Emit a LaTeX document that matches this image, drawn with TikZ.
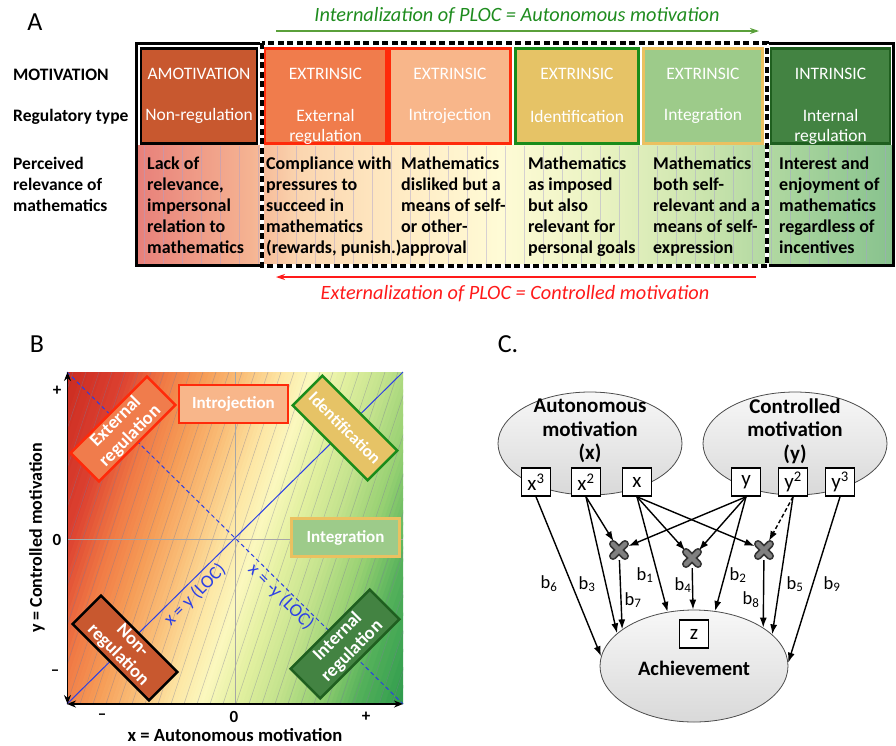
\documentclass[tikz,border=0pt]{standalone}
\usepackage{fontspec}
\setmainfont{Carlito}
\usetikzlibrary{arrows.meta,shapes.geometric}
\newcommand\myfs[2]{\fontsize{#1}{#2}\selectfont}
\definecolor{amot}{HTML}{C8582F}
\definecolor{extf}{HTML}{F07C4C}
\definecolor{redb}{HTML}{FF2A0A}
\definecolor{introf}{HTML}{F8B68A}
\definecolor{identf}{HTML}{E6C366}
\definecolor{greenb}{HTML}{1A8C1A}
\definecolor{integf}{HTML}{9DCB8A}
\definecolor{goldb}{HTML}{EBC160}
\definecolor{intrf}{HTML}{438342}
\definecolor{intrb}{HTML}{1F5F1F}
\definecolor{ttlgreen}{HTML}{1E8C1E}
\definecolor{arrgreen}{HTML}{5AA03A}
\definecolor{ttlred}{HTML}{FF1A1A}
\definecolor{bluel}{HTML}{2B3FE6}
\definecolor{gridc}{HTML}{A8A0D0}
\definecolor{hatchc}{HTML}{7A7A9A}
\definecolor{a0}{HTML}{E8807A}
\definecolor{a1}{HTML}{F5B392}
\definecolor{a2}{HTML}{FBD6B0}
\definecolor{a3}{HTML}{FFEBC4}
\definecolor{a4}{HTML}{FFFBD6}
\definecolor{a5}{HTML}{EAF3C2}
\definecolor{a6}{HTML}{CCE5AE}
\definecolor{a7}{HTML}{A6D39C}
\definecolor{a8}{HTML}{88C28E}
\definecolor{g0}{HTML}{C8281E}
\definecolor{g1}{HTML}{DC4030}
\definecolor{g2}{HTML}{F07A45}
\definecolor{g3}{HTML}{F69E58}
\definecolor{g4}{HTML}{FAC27C}
\definecolor{g5}{HTML}{FDE6A4}
\definecolor{g6}{HTML}{FBF8BE}
\definecolor{g7}{HTML}{E2F0A0}
\definecolor{g8}{HTML}{C2E28C}
\definecolor{g9}{HTML}{96D072}
\definecolor{g10}{HTML}{52B05A}
\definecolor{g11}{HTML}{239448}
\pgfdeclarehorizontalshading{rowgrad}{100bp}{color(0bp)=(a0); color(25bp)=(a0); color(32.5bp)=(a1); color(35.8bp)=(a2); color(42.5bp)=(a3); color(49bp)=(a4); color(55.6bp)=(a5); color(62.3bp)=(a6); color(68.8bp)=(a7); color(75bp)=(a8); color(100bp)=(a8)}
\begin{document}
\begin{tikzpicture}[x=1pt,y=-1pt,
  lbl/.style={inner sep=0},
  celltop/.style={line width=2.6pt, minimum height=95pt, inner sep=0},
  wtxt/.style={text=white, font=\myfs{17.5}{20}, inner sep=0, align=center},
  lefttxt/.style={font=\bfseries\myfs{17.5}{20.8}, inner sep=0, align=left},
  rowtxt/.style={anchor=north west, align=left, inner sep=0, font=\bfseries\myfs{18}{20.8}},
  gridl/.style={gridc, opacity=0.45, line width=0.6pt},
  hatch/.style={hatchc, opacity=0.45, line width=0.5pt},
  bbox/.style={draw, line width=2.5pt, text=white, font=\bfseries\myfs{17}{19}, align=center, inner sep=0},
  rbox/.style={bbox, font=\bfseries\myfs{18.5}{20.5}},
  ticklab/.style={font=\bfseries\myfs{17}{20}, inner sep=0},
  axarr/.style={line width=1.6pt, {Stealth[length=9pt,width=7pt]}-{Stealth[length=9pt,width=7pt]}},
  ell/.style={ellipse, draw=black!70, line width=0.8pt, top color=gray!6, bottom color=gray!30, inner sep=0},
  elltxt/.style={font=\bfseries\myfs{21}{23.5}, align=center, inner sep=0},
  sqbox/.style={draw, fill=white, line width=1.6pt, minimum width=29pt, minimum height=28pt, inner sep=0, font=\myfs{21}{22}},
  crossn/.style={circle, minimum size=20pt, inner sep=0},
  arr/.style={line width=1.4pt, -{Latex[length=10pt,width=7pt]}},
  blab/.style={font=\myfs{18.5}{20}, inner sep=0}
]
\useasboundingbox (0,0) rectangle (896,745);

% ================= Panel A =================
\node[lbl, font=\myfs{26}{30}] (lA) at (35,22) {A};
\node[lbl, font=\itshape\myfs{20.3}{24}, text=ttlgreen] (tin) at (517,16) {Internalization of PLOC = Autonomous motivation};
\coordinate (gs) at (276,31); \coordinate (ge) at (759,31);
\draw[arrgreen, line width=1.3pt, -{Stealth[length=9pt,width=6pt]}] (gs) -- (ge);

% bottom row gradient
\shade[shading=rowgrad] (137,145) rectangle (892,265);
\foreach \i in {0,...,39} \draw[gridl] ({144+\i*19},146) -- ++(0,118);

% top row cells
\node[celltop, draw=black, fill=amot, minimum width=116pt] (camot) at (199,96) {};
\node[celltop, draw=redb, fill=extf, minimum width=122pt] (cext) at (325.5,96) {};
\node[celltop, draw=redb, fill=introf, minimum width=121pt] (cintro) at (450,96) {};
\node[celltop, draw=greenb, fill=identf, minimum width=123pt] (cident) at (577,96) {};
\node[celltop, draw=goldb, fill=integf, minimum width=119pt] (cinteg) at (703,96) {};
\node[celltop, draw=intrb, fill=intrf, minimum width=119pt] (cintr) at (830.5,96) {};

\node[wtxt] (t1a) at (199,74) {AMOTIVATION};
\node[wtxt] (t1b) at (199,116) {Non-regulation};
\node[wtxt] (t2a) at (325.5,74) {EXTRINSIC};
\node[wtxt] (t2b) at (325.5,127) {External\\regulation};
\node[wtxt] (t3a) at (450,74) {EXTRINSIC};
\node[wtxt] (t3b) at (450,116) {Introjection};
\node[wtxt] (t4a) at (577,74) {EXTRINSIC};
\node[wtxt] (t4b) at (577,116) {Identification};
\node[wtxt] (t5a) at (703,74) {EXTRINSIC};
\node[wtxt] (t5b) at (703,116) {Integration};
\node[wtxt] (t6a) at (830.5,74) {INTRINSIC};
\node[wtxt] (t6b) at (830.5,127) {Internal\\regulation};

% outer frame
\draw[line width=3pt] (136,43) rectangle (893,265);
% dashed frame
\draw[white, line width=3.6pt] (262,43) rectangle (767,266);
\draw[black, line width=3.6pt, dash pattern=on 6pt off 3.5pt] (262,43) rectangle (767,266);

% left labels
\node[lefttxt, anchor=west] (lmot) at (13,75) {MOTIVATION};
\node[lefttxt, anchor=west] (lreg) at (13,117) {Regulatory type};
\node[rowtxt, font=\bfseries\myfs{17.5}{20.8}] (lper) at (13,157) {Perceived\\relevance of\\mathematics};

% row texts
\node[rowtxt] (r1) at (147,157) {Lack of\\relevance,\\impersonal\\relation to\\mathematics};
\node[rowtxt] (r2) at (266,157) {Compliance with\\pressures to\\succeed in\\mathematics\\(rewards, punish.)};
\node[rowtxt] (r3) at (401,157) {Mathematics\\disliked but a\\means of self-\\or other-\\approval};
\node[rowtxt] (r4) at (528,157) {Mathematics\\as imposed\\but also\\relevant for\\personal goals};
\node[rowtxt] (r5) at (653,157) {Mathematics\\both self-\\relevant and a\\means of self-\\expression};
\node[rowtxt] (r6) at (779,157) {Interest and\\enjoyment of\\mathematics\\regardless of\\incentives};

\coordinate (rs) at (756,277); \coordinate (re) at (276,277);
\draw[ttlred, line width=1.3pt, -{Stealth[length=9pt,width=6pt]}] (rs) -- (re);
\node[lbl, font=\itshape\myfs{20.3}{24}, text=ttlred] (tex) at (515,294) {Externalization of PLOC = Controlled motivation};

% ================= Panel B =================
\node[lbl, font=\myfs{26}{30}] (lB) at (37,344) {B};
\begin{scope}
\clip (67,372) rectangle (403,704);
\foreach \ua/\ub/\ca/\cb in {0/67/g0/g1, 67/110/g1/g2, 110/150/g2/g3, 150/190/g3/g4, 190/225/g4/g5, 225/255/g5/g6, 255/290/g6/g7, 290/330/g7/g8, 330/370/g8/g9, 370/410/g9/g10, 410/470/g10/g11}{
  \foreach \j in {0,...,9}{
    \pgfmathtruncatemacro\pp{\j*10}
    \pgfmathsetmacro\xx{\ua+(\ub-\ua)*\j/10}
    \pgfmathsetmacro\ww{(\ub-\ua)/10+0.8}
    \fill[\cb!\pp!\ca] ({\xx-55},704) -- ++(\ww,0) -- ++(110,-332) -- ++(-\ww,0) -- cycle;
  }
}
\foreach \i in {0,...,36} \draw[hatch] ({-50+\i*13},704) -- ++(110,-332);
\end{scope}
\draw[gray!70, line width=0.6pt] (235,372) -- (235,704);
\draw[gray!70, line width=0.6pt] (67,539) -- (403,539);
\draw[bluel, line width=1pt] (67,704) -- (403,372);
\draw[bluel, line width=1pt, dash pattern=on 4pt off 3pt] (67,372) -- (403,704);
\node[lbl, text=bluel, rotate=45, font=\myfs{18.5}{20}] (loc1) at (195,595) {x = y (LOC)};
\node[lbl, text=bluel, rotate=-45, font=\myfs{18.5}{20}] (loc2) at (281,597) {x = -y (LOC)};

\node[rbox, fill=extf, draw=redb, rotate=45, minimum width=108pt, minimum height=40pt] (bext) at (123,429) {External\\regulation};
\node[bbox, fill=introf, draw=redb, minimum width=109pt, minimum height=38pt] (bintro) at (233.5,404) {Introjection};
\node[rbox, fill=identf, draw=greenb, rotate=-45, minimum width=106pt, minimum height=42pt, font=\bfseries\myfs{17}{19}] (bident) at (345,428) {Identification};
\node[bbox, fill=integf, draw=goldb, minimum width=108pt, minimum height=38pt] (binteg) at (345.5,537.5) {Integration};
\node[rbox, fill=amot, draw=black, rotate=-45, minimum width=108pt, minimum height=40pt] (bnon) at (125,648) {Non-\\regulation};
\node[rbox, fill=intrf, draw=intrb, rotate=45, minimum width=112pt, minimum height=42pt] (bint) at (345,644) {Internal\\regulation};

\coordinate (yb) at (67.5,704); \coordinate (yt) at (67.5,372);
\coordinate (xlft) at (67,704); \coordinate (xrt) at (403,704);
\draw[axarr] (yb) -- (yt);
\draw[axarr] (xlft) -- (xrt);
\node[ticklab] (typ) at (57,391) {+};
\node[ticklab] (ty0) at (57,540) {0};
\node[ticklab] (tym) at (55,673) {–};
\node[ticklab] (txm) at (102,717) {–};
\node[ticklab] (tx0) at (234,717) {0};
\node[ticklab] (txp) at (366,717) {+};
\node[lbl, font=\bfseries\myfs{18.6}{20}] (xlab) at (235,735) {x = Autonomous motivation};
\node[lbl, font=\bfseries\myfs{18}{20}, rotate=90] (ylab) at (37,538) {y = Controlled motivation};

% ================= Panel C =================
\node[lbl, font=\myfs{26}{30}] (lC) at (508,344) {C.};
\node[ell, minimum width=184pt, minimum height=103pt] (auto) at (590,443.5) {};
\node[ell, minimum width=184pt, minimum height=103pt] (ctrl) at (795,443.5) {};
\node[ell, minimum width=188pt, minimum height=112pt] (ach) at (694,666) {};
\node[elltxt] (autot) at (590,431) {Autonomous\\motivation\\(x)};
\node[elltxt] (ctrlt) at (795,431) {Controlled\\motivation\\(y)};
\node[elltxt, font=\bfseries\myfs{20.5}{23}] (acht) at (694,668) {Achievement};

\node[sqbox] (bx3) at (536,482) {x\textsuperscript{3}};
\node[sqbox] (bx2) at (586,482) {x\textsuperscript{2}};
\node[sqbox] (bx1) at (637,482) {x};
\node[sqbox] (by1) at (746,482) {y};
\node[sqbox] (by2) at (793,482) {y\textsuperscript{2}};
\node[sqbox] (by3) at (840,482) {y\textsuperscript{3}};
\node[sqbox] (bz) at (694,634) {z};

\node[crossn] (c1) at (619,550) {};
\node[crossn] (c2) at (692,558) {};
\node[crossn] (c3) at (764,550) {};

\draw[arr] (bx3.south) -- (ach.174);
\draw[arr] (bx2.south) -- (ach.157);
\draw[arr] (bx2.south) -- (c1);
\draw[arr] (bx1.south) -- (ach.116);
\draw[arr] (bx1.south) -- (c2);
\draw[arr] (bx1.south) -- (c3);
\draw[arr] (by1.south) -- (c1);
\draw[arr] (by1.south) -- (c2);
\draw[arr] (by1.south) -- (ach.69);
\draw[arr, dash pattern=on 4pt off 2.5pt] (by2.south) -- (c3);
\draw[arr] (by2.south) -- (ach.22);
\draw[arr] (by3.south) -- (ach.2);
\draw[arr] (c1) -- (ach.153);
\draw[arr] (c2) -- (ach.91);
\draw[arr] (c3) -- (ach.29);

\foreach \c in {c1,c2,c3}{
  \draw[line width=8pt, line cap=round, black!80] ([shift={(-6,-6)}]\c.center) -- ([shift={(6,6)}]\c.center);
  \draw[line width=8pt, line cap=round, black!80] ([shift={(-6,6)}]\c.center) -- ([shift={(6,-6)}]\c.center);
  \draw[line width=4.5pt, line cap=round, black!50] ([shift={(-6,-6)}]\c.center) -- ([shift={(6,6)}]\c.center);
  \draw[line width=4.5pt, line cap=round, black!50] ([shift={(-6,6)}]\c.center) -- ([shift={(6,-6)}]\c.center);
}

\node[blab] (lb6) at (549,584) {b\textsubscript{6}};
\node[blab] (lb3) at (587,584) {b\textsubscript{3}};
\node[blab] (lb1) at (645,575) {b\textsubscript{1}};
\node[blab] (lb7) at (633,600) {b\textsubscript{7}};
\node[blab] (lb4) at (683,585) {b\textsubscript{4}};
\node[blab] (lb2) at (738,575) {b\textsubscript{2}};
\node[blab] (lb8) at (751,600) {b\textsubscript{8}};
\node[blab] (lb5) at (795,584) {b\textsubscript{5}};
\node[blab] (lb9) at (832,584) {b\textsubscript{9}};
\end{tikzpicture}
\end{document}
